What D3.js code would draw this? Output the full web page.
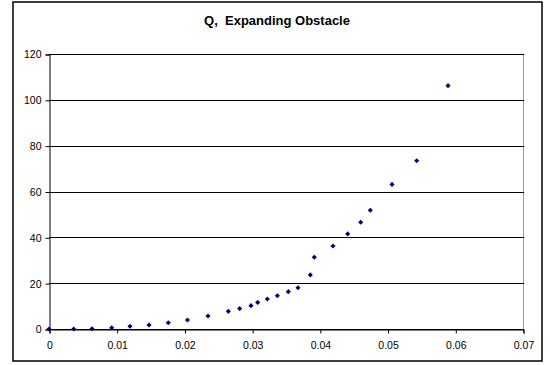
<!DOCTYPE html>
<html>
<head>
<meta charset="utf-8">
<script src="https://cdn.jsdelivr.net/npm/d3@7"></script>
<style>
  html, body { margin: 0; padding: 0; background: #fff; }
  svg { display: block; font-family: Arial, "Liberation Sans", sans-serif; }
</style>
</head>
<body>
<svg id="chart" width="550" height="365"></svg>
<script>
// Measured Q versus time for the expanding obstacle
const tValues = [0, 0.00365, 0.00635, 0.00926, 0.01196, 0.01477, 0.01762, 0.02045,
  0.02348, 0.02648, 0.02816, 0.02983, 0.03082, 0.03224, 0.03372, 0.03534, 0.03677,
  0.03859, 0.03918, 0.04194, 0.04411, 0.04603, 0.04745, 0.05066, 0.05430, 0.05893];
const qValues = [0, 0, 0.13, 0.57, 1.2, 1.75, 2.75, 3.9,
  5.67, 7.7, 8.9, 10.2, 11.6, 13.1, 14.5, 16.3, 18.0,
  23.6, 31.3, 36.2, 41.5, 46.6, 51.8, 63.1, 73.4, 106.2];
const xTicks = [0, 0.01, 0.02, 0.03, 0.04, 0.05, 0.06, 0.07];
const yTicks = [0, 20, 40, 60, 80, 100, 120];
const title = "Q,  Expanding Obstacle";

const svg = d3.select("#chart");
const plot = { left: 49, right: 523, top: 54, bottom: 329 };

const x = d3.scaleLinear().domain([0, 0.07]).range([plot.left, plot.right]);
const y = d3.scaleLinear().domain([0, 120]).range([plot.bottom, plot.top]);

// Outer chart frame
svg.append("rect")
  .attr("x", 13).attr("y", 2)
  .attr("width", 529).attr("height", 359)
  .attr("fill", "#fff").attr("stroke", "#000").attr("stroke-width", 1.5);

// Title (double space kept)
svg.append("text")
  .attr("x", 277).attr("y", 25)
  .attr("text-anchor", "middle")
  .attr("font-size", 13).attr("font-weight", "bold")
  .style("white-space", "pre")
  .text(title);

// Plot area right edge
svg.append("line")
  .attr("x1", plot.right + 0.5).attr("x2", plot.right + 0.5)
  .attr("y1", plot.top).attr("y2", plot.bottom)
  .attr("stroke", "#a0a0a0");

// Horizontal gridlines
svg.append("g").selectAll("line").data(yTicks).join("line")
  .attr("x1", plot.left).attr("x2", plot.right + 1)
  .attr("y1", d => Math.round(y(d)) + 0.5).attr("y2", d => Math.round(y(d)) + 0.5)
  .attr("stroke", "#000");

// Y axis
const yAxis = svg.append("g")
  .attr("transform", `translate(${plot.left + 0.5},0.5)`)
  .call(d3.axisLeft(y).tickValues(yTicks).tickSize(4).tickPadding(4).tickFormat(d3.format("d")));
yAxis.selectAll("text").attr("font-size", 10.5).attr("font-family", "Arial, 'Liberation Sans', sans-serif").attr("fill", "#000");
yAxis.select(".domain").attr("stroke", "#000");

// X axis
const xAxis = svg.append("g")
  .attr("transform", `translate(0.5,${plot.bottom + 0.5})`)
  .call(d3.axisBottom(x).tickValues(xTicks).tickSize(4).tickPadding(8)
    .tickFormat(d => d === 0 ? "0" : d3.format(".2f")(d)));
xAxis.selectAll("text").attr("font-size", 10.5).attr("font-family", "Arial, 'Liberation Sans', sans-serif").attr("fill", "#000");
xAxis.select(".domain").attr("stroke", "#000");

// Data markers (diamonds)
const diamond = d3.symbol().type(d3.symbolSquare).size(13);
svg.append("g").selectAll("path").data(tValues.map((t, i) => [t, qValues[i]])).join("path")
  .attr("d", diamond)
  .attr("transform", d => `translate(${x(d[0])},${y(d[1])}) rotate(45)`)
  .attr("fill", "#000080");
</script>
</body>
</html>
